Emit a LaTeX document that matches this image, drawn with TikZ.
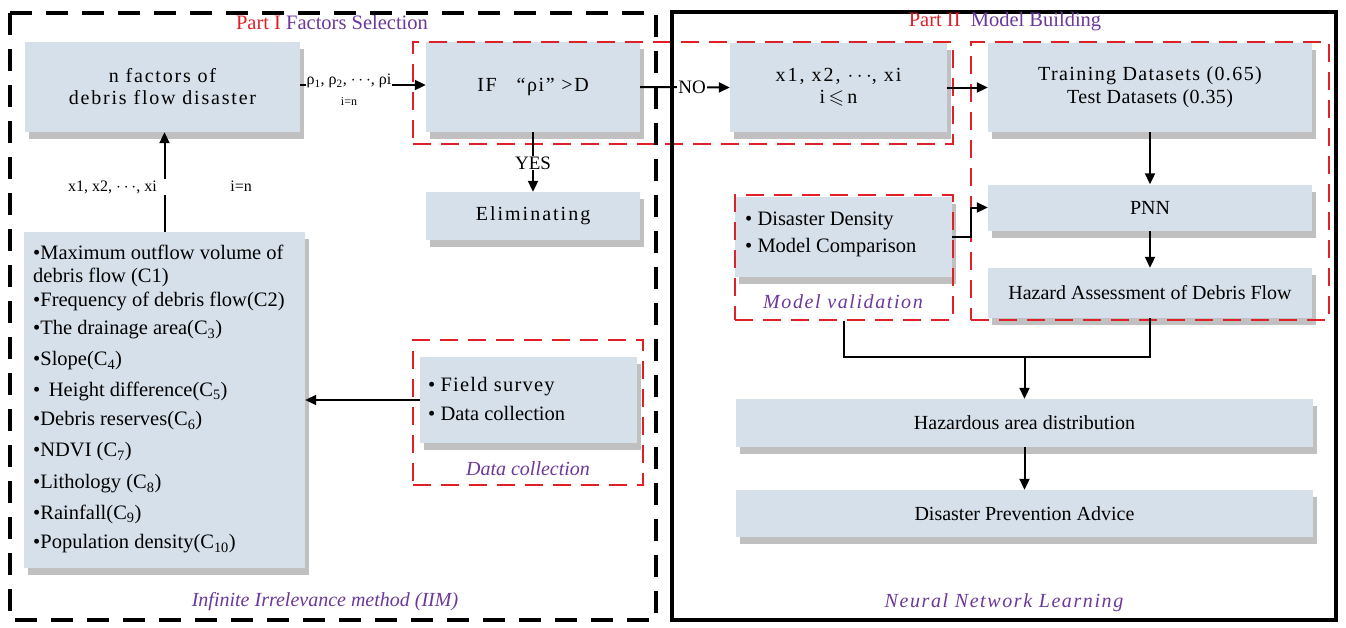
\documentclass[tikz,border=0pt]{standalone}
\usepackage{fontspec}
\setmainfont{Liberation Serif}
\usepackage{amssymb}
\usetikzlibrary{arrows.meta,shadows,calc}
\definecolor{boxfill}{RGB}{214,224,234}
\definecolor{shadowgray}{RGB}{192,192,192}
\definecolor{pred}{RGB}{224,32,40}
\definecolor{ppurple}{RGB}{108,56,156}
\tikzset{
  bx/.style={fill=boxfill, draw=none, inner sep=2pt, align=center,
    font=\fontsize{20}{22}\selectfont,
    drop shadow={shadow xshift=4pt, shadow yshift=-7pt, fill=shadowgray, opacity=1}},
  rdash/.style={draw=pred, line width=1.8pt, dash pattern=on 18pt off 10pt, inner sep=0pt, fill=none},
  arr/.style={draw=black, line width=2pt, -{Triangle[length=11pt,width=10pt]}},
  ln/.style={draw=black, line width=2pt},
  lbl/.style={fill=white, inner sep=1pt, font=\fontsize{19}{21}\selectfont},
  lst/.style={anchor=west, inner sep=0pt, font=\fontsize{20.5}{22}\selectfont},
  captxt/.style={text=ppurple, font=\fontsize{20}{22}\selectfont\itshape, inner sep=0pt},
  ttl/.style={font=\fontsize{20.5}{22}\selectfont, inner sep=0pt}
}
\newcommand{\ls}[1]{\addfontfeature{LetterSpace=#1}}
\begin{document}
\begin{tikzpicture}[x=1pt,y=-1pt]
\useasboundingbox (0,0) rectangle (1346,627);
\fill[white] (0,0) rectangle (1346,627);

% ---------- boxes ----------
\node[bx, minimum width=275pt, minimum height=90pt] (nf) at (162.5,87) {\ls{9}n factors of\\\ls{9}debris flow disaster};
\node[bx, minimum width=214pt, minimum height=90pt] (ifb) at (533,87) {\ls{8}IF\quad “ρi”\ >D};
\node[bx, minimum width=214pt, minimum height=48pt] (elim) at (533,216) {\ls{10}Eliminating};
\node[bx, minimum width=281pt, minimum height=336pt] (list) at (164.5,400) {};
\node[bx, minimum width=217pt, minimum height=86pt] (dat) at (528.5,400) {};
\node[bx, minimum width=217pt, minimum height=89pt] (xb) at (838.5,87.5) {\ls{10}x1, x2, $\cdots$, xi\\i\,$\leqslant$\,n};
\node[bx, minimum width=324pt, minimum height=89pt] (trn) at (1150,87.5) {\ls{7}Training Datasets (0.65)\\[1pt]\ls{2}Test Datasets (0.35)};
\node[bx, minimum width=324pt, minimum height=46pt] (pnn) at (1150,207.5) {PNN};
\node[bx, minimum width=324pt, minimum height=50pt] (haz) at (1150,293) {Hazard Assessment of Debris Flow};
\node[bx, minimum width=217pt, minimum height=80pt] (val) at (843.5,237) {};
\node[bx, minimum width=577pt, minimum height=48pt] (hzd) at (1024.5,423) {Hazardous area distribution};
\node[bx, minimum width=577pt, minimum height=47pt] (dpa) at (1024.5,513.5) {Disaster Prevention Advice};

% ---------- list text ----------
\node[lst] (l1) at (33,252) {•Maximum outflow volume of};
\node[lst] (l2) at (33,277) {debris flow (C1)};
\node[lst] (l3) at (33,301) {•Frequency of debris flow(C2)};
\node[lst] (l4) at (33,330) {•The drainage area(C\textsubscript{3})};
\node[lst] (l5) at (33,361) {•Slope(C\textsubscript{4})};
\node[lst] (l6) at (33,391) {•\, Height difference(C\textsubscript{5})};
\node[lst] (l7) at (33,421) {•Debris reserves(C\textsubscript{6})};
\node[lst] (l8) at (33,452) {•NDVI (C\textsubscript{7})};
\node[lst] (l9) at (33,484) {•Lithology (C\textsubscript{8})};
\node[lst] (l10) at (33,514) {•Rainfall(C\textsubscript{9})};
\node[lst] (l11) at (33,544) {•Population density(C\textsubscript{10})};

\node[lst] (d1) at (428,387) {•\ \ls{6}Field survey};
\node[lst] (d2) at (428,413) {•\ Data collection};
\node[lst] (v1) at (745,221) {•\ Disaster Density};
\node[lst] (v2) at (745,248) {•\ Model Comparison};

% ---------- red dashed groups ----------
\node[rdash, minimum width=540pt, minimum height=102pt] (r1) at (683,93) {};
\node[rdash, minimum width=358pt, minimum height=278pt] (r2) at (1150,181) {};
\node[rdash, minimum width=218pt, minimum height=125pt] (r3) at (844,257.5) {};
\node[rdash, minimum width=230pt, minimum height=145pt] (r4) at (528,412.5) {};

% ---------- outer frames ----------
\draw[line width=4pt, dash pattern=on 22pt off 14pt] (10,13) rectangle (656,620);
\draw[line width=3.5pt] (672,12) rectangle (1336,620);

% ---------- titles & captions ----------
\node[ttl] (t1) at (332,22) {\textcolor{pred}{Part I} \textcolor{ppurple}{Factors Selection}};
\node[ttl] (t2) at (1005,22) {\textcolor{pred}{Part II}\enspace\textcolor{ppurple}{Model Building}};
\node[captxt] (c1) at (325,602) {Infinite Irrelevance method (IIM)};
\node[captxt] (c2) at (1004,603) {\ls{8}Neural Network Learning};
\node[captxt] (c3) at (528,469) {Data collection};
\node[captxt] (c4) at (843,302) {\ls{8}Model validation};

% ---------- connectors ----------
\draw[arr] (nf.east |- 0,85) -- (ifb.west |- 0,85);
\node[lbl, font=\fontsize{16}{18}\selectfont] (rho) at (349,81) {ρ\textsubscript{1}, ρ\textsubscript{2}, $\cdots$, ρi};
\node[inner sep=0pt, font=\fontsize{12}{14}\selectfont] (ieqn) at (349,102) {i=n};

\draw[arr] (ifb.east) -- (xb.west);
\node[lbl] (no) at (692,87) {NO};

\draw[arr] (xb.east) -- (trn.west);
\draw[arr] (trn.south) -- (pnn.north);
\draw[arr] (pnn.south) -- (haz.north);

\draw[arr] (ifb.south) -- (elim.north);
\node[lbl] (yes) at (533,163) {YES};

\draw[arr] (list.north) -- (list.north |- nf.south);
\node[lbl, font=\fontsize{16}{18}\selectfont] (xlab) at (160,187) {x1, x2, $\cdots$, xi\hspace{4.6em}i=n};

\draw[arr] (dat.west) -- (list.east);

\draw[arr] (val.east) -| ($(pnn.west)+(-17,0)$) -- (pnn.west);

\coordinate (m) at (hzd.north |- 0,357);
\draw[ln] (r3.south) |- (m) -| (haz.south);
\draw[arr] (m) -- (hzd.north);
\draw[arr] (hzd.south) -- (dpa.north);
\end{tikzpicture}
\end{document}
